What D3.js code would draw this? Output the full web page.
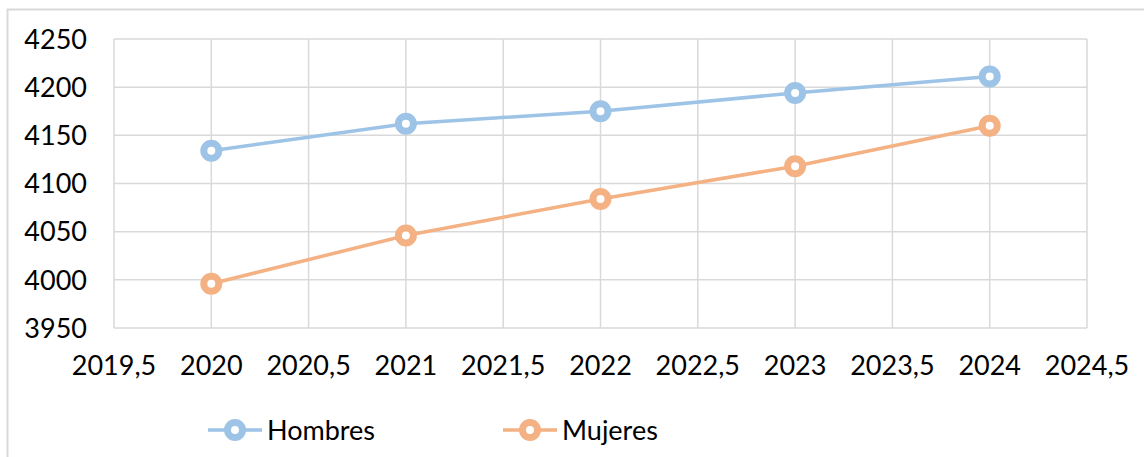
<!DOCTYPE html>
<html>
<head>
  <meta charset="utf-8">
  <script src="https://d3js.org/d3.v7.min.js"></script>
  <style>
    body { margin: 0; background: #fff; }
    text { font-family: Lato, "Open Sans", sans-serif; fill: #000; }
  </style>
</head>
<body>
<svg width="1144" height="457"></svg>
<script>
// data
var years = [2020, 2021, 2022, 2023, 2024];
var hombres = [4134, 4162, 4175, 4194, 4211];
var mujeres = [3996, 4046, 4084, 4118, 4160];
var xTicks = [2019.5, 2020, 2020.5, 2021, 2021.5, 2022, 2022.5, 2023, 2023.5, 2024, 2024.5];
var yTicks = [3950, 4000, 4050, 4100, 4150, 4200, 4250];
var seriesNames = ["Hombres", "Mujeres"];
var colors = ["#9dc3e6", "#f4b183"];

var svg = d3.select("svg"),
    margin = {top: 39, right: 57, bottom: 129, left: 114},
    width = +svg.attr("width") - margin.left - margin.right,
    height = +svg.attr("height") - margin.top - margin.bottom;

// outer chart frame
svg.append("rect")
  .attr("x", 7.5).attr("y", 9.5)
  .attr("width", 1160).attr("height", 470)
  .attr("fill", "none")
  .attr("stroke", "#d9d9d9")
  .attr("stroke-width", 2);

var g = svg.append("g").attr("transform", "translate(" + margin.left + "," + margin.top + ")");

var x = d3.scaleLinear().domain([2019.5, 2024.5]).range([0, width]);
var y = d3.scaleLinear().domain([3950, 4250]).range([height, 0]);

// gridlines
g.append("g").selectAll("line").data(yTicks).enter().append("line")
  .attr("x1", 0).attr("x2", width)
  .attr("y1", function(d) { return y(d); })
  .attr("y2", function(d) { return y(d); })
  .attr("stroke", "#d9d9d9").attr("stroke-width", 1.5);

g.append("g").selectAll("line").data(xTicks).enter().append("line")
  .attr("y1", 0).attr("y2", height)
  .attr("x1", function(d) { return x(d); })
  .attr("x2", function(d) { return x(d); })
  .attr("stroke", "#d9d9d9").attr("stroke-width", 1.5);

// axes labels
var fmt = function(d) { return String(d).replace(".", ","); };

g.append("g").selectAll("text").data(yTicks).enter().append("text")
  .attr("x", -27)
  .attr("y", function(d) { return y(d); })
  .attr("dy", "0.36em")
  .attr("text-anchor", "end")
  .attr("font-size", "27px")
  .text(function(d) { return d; });

g.append("g").selectAll("text").data(xTicks).enter().append("text")
  .attr("x", function(d) { return x(d); })
  .attr("y", height + 47)
  .attr("text-anchor", "middle")
  .attr("font-size", "27px")
  .text(fmt);

// lines + markers
var line = d3.line()
  .x(function(d, i) { return x(years[i]); })
  .y(function(d) { return y(d); });

[hombres, mujeres].forEach(function(vals, k) {
  g.append("path")
    .datum(vals)
    .attr("d", line)
    .attr("fill", "none")
    .attr("stroke", colors[k])
    .attr("stroke-width", 3.5);

  g.append("g").selectAll("circle").data(vals).enter().append("circle")
    .attr("cx", function(d, i) { return x(years[i]); })
    .attr("cy", function(d) { return y(d); })
    .attr("r", 7.5)
    .attr("fill", "#fff")
    .attr("stroke", colors[k])
    .attr("stroke-width", 7);
});

// legend
var legX = [208, 503];
var legend = svg.append("g").selectAll("g").data(seriesNames).enter().append("g")
  .attr("transform", function(d, i) { return "translate(" + legX[i] + ",430)"; });

legend.append("line")
  .attr("x1", 0).attr("x2", 54)
  .attr("stroke", function(d, i) { return colors[i]; })
  .attr("stroke-width", 3.5);

legend.append("circle")
  .attr("cx", 27).attr("r", 7.5)
  .attr("fill", "#fff")
  .attr("stroke", function(d, i) { return colors[i]; })
  .attr("stroke-width", 7);

legend.append("text")
  .attr("x", 59)
  .attr("dy", "0.36em")
  .attr("font-size", "27px")
  .text(function(d) { return d; });
</script>
</body>
</html>
